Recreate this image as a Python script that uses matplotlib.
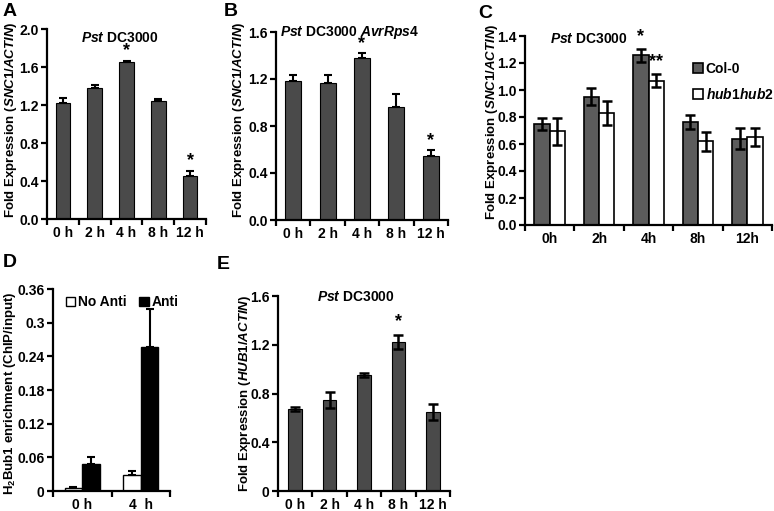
import matplotlib.pyplot as plt
import numpy as np

plt.rcParams['font.family'] = 'Liberation Sans'
plt.rcParams['font.weight'] = 'bold'
plt.rcParams['mathtext.fontset'] = 'custom'
plt.rcParams['mathtext.rm'] = 'Liberation Sans:bold'
plt.rcParams['mathtext.it'] = 'Liberation Sans:italic:bold'
plt.rcParams['mathtext.bf'] = 'Liberation Sans:bold'

# data
times = ['0 h', '2 h', '4 h', '8 h', '12 h']
snc1_pst = [1.22, 1.38, 1.655, 1.245, 0.455]
snc1_pst_err = [0.05, 0.03, 0.01, 0.017, 0.055]
snc1_avr = [1.18, 1.165, 1.38, 0.963, 0.547]
snc1_avr_err = [0.05, 0.065, 0.043, 0.11, 0.045]

c_times = ['0h', '2h', '4h', '8h', '12h']
col0 = [0.745, 0.95, 1.256, 0.764, 0.64]
col0_err = [0.044, 0.063, 0.045, 0.05, 0.08]
hub12 = [0.695, 0.827, 1.07, 0.62, 0.65]
hub12_err = [0.1, 0.088, 0.05, 0.07, 0.065]

d_times = ['0 h', '4  h']
no_anti = [0.005, 0.029]
no_anti_err = [0.003, 0.006]
anti = [0.048, 0.257]
anti_err = [0.012, 0.068]

hub1 = [0.673, 0.75, 0.954, 1.223, 0.649]
hub1_err = [0.02, 0.065, 0.018, 0.058, 0.066]

W, H = 774, 511
FS = 10
LFS = 9.5
fig = plt.figure(figsize=(W / 100, H / 100), dpi=100)


def rect(l, r, t, b):
    return [l / W, 1 - b / H, (r - l) / W, (b - t) / H]


def style(ax, labels, yticks, yfmt):
    n = len(labels)
    for s in ['top', 'right']:
        ax.spines[s].set_visible(False)
    for s in ['left', 'bottom']:
        ax.spines[s].set_linewidth(1.6)
    ax.set_xlim(-0.5, n - 0.5)
    ax.set_xticks(range(n))
    ax.set_xticklabels(labels)
    ax.set_xticks(np.arange(-0.5, n), minor=True)
    ax.tick_params(axis='x', which='major', length=0, labelsize=FS, pad=5)
    ax.tick_params(axis='x', which='minor', length=4, width=1.6, direction='out')
    ax.set_ylim(yticks[0], yticks[-1])
    ax.set_yticks(yticks)
    ax.set_yticklabels([yfmt(v) for v in yticks])
    ax.tick_params(axis='y', length=4, width=1.6, direction='out', labelsize=FS, pad=2)


def star(ax, x, y, s='*'):
    ax.text(x, y, s, ha='center', va='bottom', fontsize=13)


x5 = np.arange(5)
ebar = dict(fmt='none', ecolor='black', elinewidth=1.5, capthick=1.5, capsize=3)

# A
axA = fig.add_axes(rect(47, 206, 29, 219))
axA.bar(x5, snc1_pst, 0.46, color='#4a4a4a', edgecolor='black', linewidth=0.8)
axA.errorbar(x5, snc1_pst, yerr=[np.zeros(5), snc1_pst_err], **ebar)
style(axA, times, [0, 0.4, 0.8, 1.2, 1.6, 2.0], lambda v: f'{v:.1f}')
axA.text(0.46, 0.955, r'$\mathit{Pst}$ DC3000', transform=axA.transAxes, ha='center', va='center', fontsize=FS)
star(axA, 2, snc1_pst[2] + snc1_pst_err[2] + 0.02)
star(axA, 4, snc1_pst[4] + snc1_pst_err[4] + 0.02)

# B
axB = fig.add_axes(rect(276, 448, 32, 220))
axB.bar(x5, snc1_avr, 0.46, color='#4a4a4a', edgecolor='black', linewidth=0.8)
axB.errorbar(x5, snc1_avr, yerr=[np.zeros(5), snc1_avr_err], **ebar)
style(axB, times, [0, 0.4, 0.8, 1.2, 1.6], lambda v: f'{v:.1f}')
axB.text(0.43, 0.995, r'$\mathit{Pst}$ DC3000 $\mathit{AvrRps4}$', transform=axB.transAxes,
         ha='center', va='center', fontsize=FS)
star(axB, 2, snc1_avr[2] + snc1_avr_err[2] + 0.005)
star(axB, 4, snc1_avr[4] + snc1_avr_err[4] + 0.01)

# C
axC = fig.add_axes(rect(525, 772, 36, 225))
bw = 0.31
axC.bar(x5 - bw / 2, col0, bw, color='#5c5c5c', edgecolor='black', linewidth=1.2, label='Col-0')
axC.bar(x5 + bw / 2, hub12, bw, color='white', edgecolor='black', linewidth=1.2, label=r'$\mathit{hub1hub2}$')
axC.errorbar(x5 - bw / 2, col0, yerr=col0_err, **dict(ebar, elinewidth=1.8, capthick=1.8, capsize=3.5))
axC.errorbar(x5 + bw / 2, hub12, yerr=hub12_err, **dict(ebar, elinewidth=1.8, capthick=1.8, capsize=3.5))
style(axC, c_times, [0, 0.2, 0.4, 0.6, 0.8, 1.0, 1.2, 1.4], lambda v: f'{v:.1f}')
axC.text(0.26, 0.985, r'$\mathit{Pst}$ DC3000', transform=axC.transAxes, ha='center', va='center', fontsize=FS)
star(axC, 2 - bw / 2, col0[2] + col0_err[2] + 0.03)
star(axC, 2 + bw / 2, hub12[2] + hub12_err[2] + 0.03, '**')
axC.legend(loc='upper left', bbox_to_anchor=(0.63, 0.93), frameon=False, fontsize=FS,
           handlelength=0.7, handleheight=0.7, handletextpad=0.2, labelspacing=0.8)

# D
axD = fig.add_axes(rect(53, 170, 289, 491))
x2 = np.arange(2)
dw = 0.3
axD.bar(x2 - dw / 2, no_anti, dw, color='white', edgecolor='black', linewidth=1.0, label='No Anti')
axD.bar(x2 + dw / 2, anti, dw, color='black', edgecolor='black', linewidth=1.0, label='Anti')
axD.errorbar(x2 - dw / 2, no_anti, yerr=[np.zeros(2), no_anti_err], **ebar)
axD.errorbar(x2 + dw / 2, anti, yerr=[np.zeros(2), anti_err], **ebar)
style(axD, d_times, [0, 0.06, 0.12, 0.18, 0.24, 0.30, 0.36],
      lambda v: '0' if v == 0 else f'{v:.2f}'.rstrip('0'))
axD.legend(loc='upper left', bbox_to_anchor=(0.0, 1.03), ncol=2, frameon=False, fontsize=FS,
           handlelength=0.7, handleheight=0.7, handletextpad=0.2, columnspacing=0.9)

# E
axE = fig.add_axes(rect(278, 450, 296, 491))
axE.bar(x5, hub1, 0.4, color='#4a4a4a', edgecolor='black', linewidth=0.8)
axE.errorbar(x5, hub1, yerr=hub1_err, **dict(ebar, elinewidth=1.8, capthick=1.8, capsize=3.5))
style(axE, times, [0, 0.4, 0.8, 1.2, 1.6], lambda v: '0' if v == 0 else f'{v:.1f}')
axE.text(0.45, 0.995, r'$\mathit{Pst}$ DC3000', transform=axE.transAxes, ha='center', va='center', fontsize=FS)
star(axE, 3, hub1[3] + hub1_err[3] + 0.04)

# y labels
snc = r'Fold Expression ($\mathit{SNC1/ACTIN}$)'
fig.text(11 / W, 1 - 120 / H, snc, rotation=90, ha='center', va='center', fontsize=LFS)
fig.text(239 / W, 1 - 120 / H, snc, rotation=90, ha='center', va='center', fontsize=LFS)
fig.text(492 / W, 1 - 122 / H, snc, rotation=90, ha='center', va='center', fontsize=LFS)
fig.text(10 / W, 1 - 393 / H, r'H$_2$Bub1 enrichment (ChIP/input)', rotation=90,
         ha='center', va='center', fontsize=LFS)
fig.text(245 / W, 1 - 393 / H, r'Fold Expression ($\mathit{HUB1/ACTIN}$)', rotation=90,
         ha='center', va='center', fontsize=LFS)

# panel letters
for lab, x, y in [('A', 3, 3), ('B', 224, 3), ('C', 478, 5), ('D', 3, 254), ('E', 217, 256)]:
    fig.text(x / W, 1 - y / H, lab, ha='left', va='top', fontsize=14)

fig.savefig('out.png', dpi=100)
